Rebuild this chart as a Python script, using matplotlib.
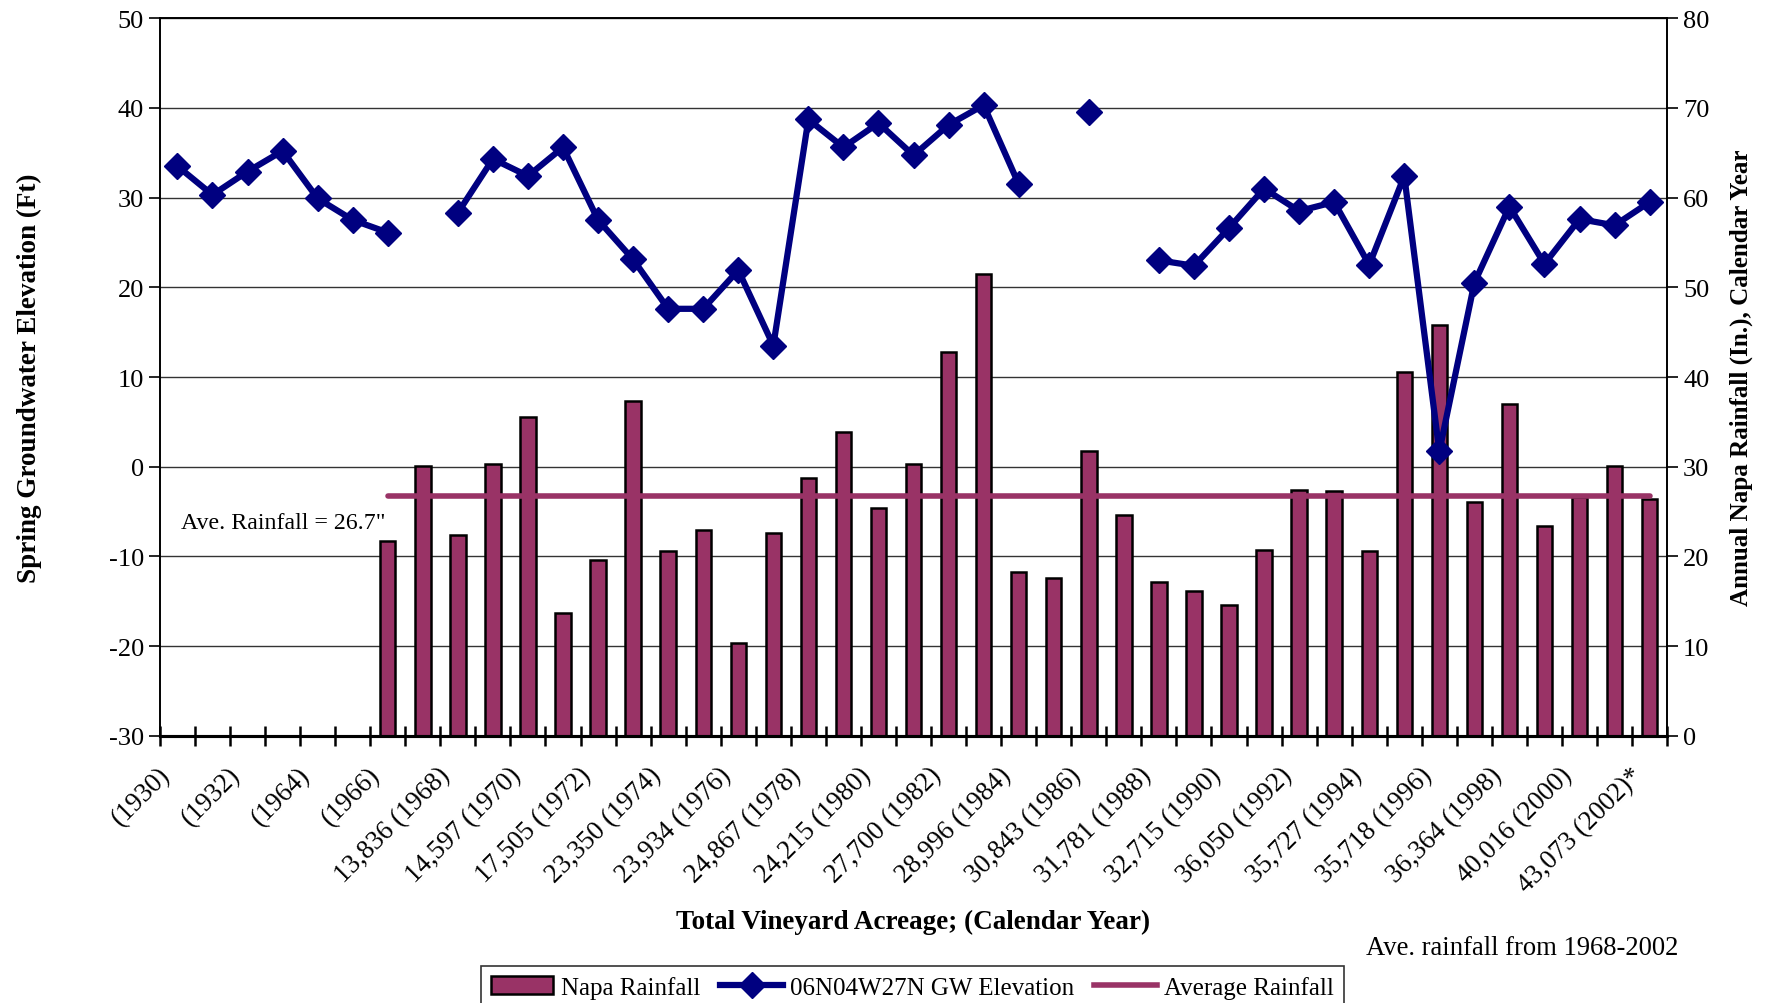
import numpy as np
import matplotlib
matplotlib.use("Agg")
import matplotlib.pyplot as plt
import matplotlib.transforms as mtransforms
from matplotlib.patches import Patch
from matplotlib.lines import Line2D

plt.rcParams['font.family'] = ['Liberation Serif', 'DejaVu Serif']
plt.rcParams['axes.unicode_minus'] = False

# ---- data ----
tick_labels = ["(1930)", "", "(1932)", "", "(1964)", "", "(1966)", "",
               "13,836 (1968)", "", "14,597 (1970)", "", "17,505 (1972)", "",
               "23,350 (1974)", "", "23,934 (1976)", "", "24,867 (1978)", "",
               "24,215 (1980)", "", "27,700 (1982)", "", "28,996 (1984)", "",
               "30,843 (1986)", "", "31,781 (1988)", "", "32,715 (1990)", "",
               "36,050 (1992)", "", "35,727 (1994)", "", "35,718 (1996)", "",
               "36,364 (1998)", "", "40,016 (2000)", "", "43,073 (2002)*"]

gw_elevation = [33.5, 30.3, 32.9, 35.2, 29.9, 27.5, 26.1, np.nan,
                28.3, 34.3, 32.4, 35.6, 27.5, 23.1, 17.6, 17.6,
                21.9, 13.5, 38.7, 35.6, 38.3, 34.7, 38.1, 40.3,
                31.5, np.nan, 39.5, np.nan, 23.0, 22.4, 26.6, 31.0,
                28.5, 29.5, 22.5, 32.4, 1.7, 20.5, 29.0, 22.6,
                27.6, 26.9, 29.5]

napa_rainfall = [np.nan, np.nan, np.nan, np.nan, np.nan, np.nan, 21.7, 30.1,
                 22.4, 30.3, 35.5, 13.7, 19.6, 37.3, 20.6, 22.9,
                 10.4, 22.6, 28.8, 33.9, 25.4, 30.3, 42.8, 51.5,
                 18.3, 17.6, 31.8, 24.6, 17.2, 16.2, 14.6, 20.7,
                 27.4, 27.3, 20.6, 40.6, 45.8, 26.1, 37.0, 23.4,
                 26.6, 30.1, 26.4]

average_rainfall = [np.nan] * 6 + [26.7] * 37

# ---- figure ----
fig = plt.figure(figsize=(17.67, 10.04), dpi=100)
ax_r = fig.add_axes([0.0905, 0.266, 0.853, 0.715])
ax_l = ax_r.twinx()
ax_l.yaxis.set_label_position('left')
ax_l.yaxis.tick_left()
ax_r.yaxis.set_label_position('right')
ax_r.yaxis.tick_right()
ax_l.set_zorder(ax_r.get_zorder() + 1)
ax_l.patch.set_visible(False)

n = len(tick_labels)
x = np.arange(n)
bar_color = '#993366'
navy = '#000080'

ax_r.bar(x, napa_rainfall, width=0.44, color=bar_color, edgecolor='black',
         linewidth=1.8, zorder=2)
ax_r.plot(x, average_rainfall, color=bar_color, lw=4, solid_capstyle='round', zorder=3)
ax_r.set_ylim(0, 80)
ax_r.set_yticks(np.arange(0, 81, 10))
ax_r.grid(axis='y', color='#333333', lw=1.0)
ax_r.set_axisbelow(True)

ax_l.plot(x, gw_elevation, color=navy, lw=4.5, marker='D', markersize=13,
          zorder=4)
ax_l.set_ylim(-30, 50)
ax_l.set_yticks(np.arange(-30, 51, 10))
ax_l.set_xlim(-0.5, n - 0.5)

# x ticks
ax_r.set_xticks(x)
ax_r.set_xticklabels(tick_labels, rotation=45, ha='right', va='top',
                     rotation_mode='anchor', fontsize=19.3)
ax_r.tick_params(axis='x', which='major', length=0, pad=19)
offset = mtransforms.ScaledTranslation(-20 / 100, 0, fig.dpi_scale_trans)
for lbl in ax_r.get_xticklabels():
    lbl.set_transform(lbl.get_transform() + offset)
ax_r.set_xticks(np.arange(-0.5, n, 1.0), minor=True)
ax_r.tick_params(axis='x', which='minor', direction='inout', length=14, width=1.8)

for a in (ax_l, ax_r):
    a.tick_params(axis='y', labelsize=19, length=8, width=1.2, direction='out')
    for s in a.spines.values():
        s.set_linewidth(1.2)
ax_r.spines['bottom'].set_linewidth(2.2)
ax_l.spines['bottom'].set_linewidth(2.2)

ax_l.set_ylabel("Spring Groundwater Elevation (Ft)", fontsize=19.5, fontweight='bold',
                va='center')
ax_l.yaxis.set_label_coords(-0.0865, 0.5)
ax_r.set_ylabel("Annual Napa Rainfall (In.), Calendar Year", fontsize=18.1,
                fontweight='bold', va='center')
ax_r.yaxis.set_label_coords(1.049, 0.5)
ax_r.set_xlabel("Total Vineyard Acreage; (Calendar Year)", fontsize=19.5,
                fontweight='bold', va='center')
ax_r.xaxis.set_label_coords(0.5, -0.258)

ax_l.text(0.1, -6.2, 'Ave. Rainfall = 26.7"', fontsize=17.2, va='center', ha='left')
fig.text(0.950, 0.055, "Ave. rainfall from 1968-2002", fontsize=19.2, ha='right',
         va='center')

handles = [Patch(facecolor=bar_color, edgecolor='black', linewidth=1.8),
           Line2D([], [], color=navy, lw=4.5, marker='D', markersize=13),
           Line2D([], [], color=bar_color, lw=4)]
leg = fig.legend(handles, ["Napa Rainfall", "06N04W27N GW Elevation", "Average Rainfall"],
                 loc='center', bbox_to_anchor=(0.5165, 0.0155), ncol=3, fontsize=18,
                 frameon=True, fancybox=False, edgecolor='black', handlelength=2.5,
                 handletextpad=0.3, columnspacing=0.8, borderpad=0.4)
leg.get_frame().set_linewidth(1.2)

fig.savefig("out.png", dpi=100)
